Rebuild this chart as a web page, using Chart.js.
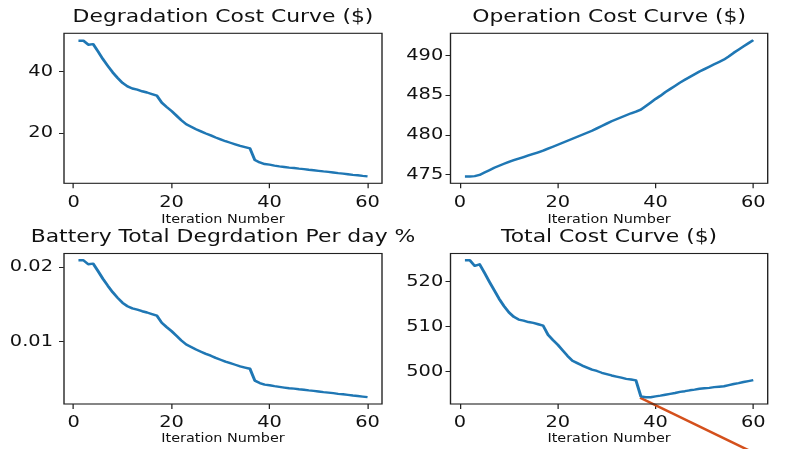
<!DOCTYPE html>
<html>
<head>
<meta charset="utf-8">
<title>Cost Curves</title>
<script src="https://cdn.jsdelivr.net/npm/chart.js@4.4.1/dist/chart.umd.min.js"></script>
<style>
  html, body { margin: 0; padding: 0; background: #fff; }
  #wrap { position: relative; width: 799px; height: 449px; overflow: hidden; }
  #wrap canvas { position: absolute; left: 0; top: 0; }
</style>
</head>
<body>
<div id="wrap">
  <canvas id="cDeg" width="799" height="449"></canvas>
  <canvas id="cOp" width="799" height="449"></canvas>
  <canvas id="cBat" width="799" height="449"></canvas>
  <canvas id="cTot" width="799" height="449"></canvas>
</div>
<script>
// iteration numbers (x axis)
const iterations = [1,2,3,4,5,6,7,8,9,10,11,12,13,14,15,16,17,18,19,20,
  21,22,23,24,25,26,27,28,29,30,31,32,33,34,35,36,37,38,39,40,
  41,42,43,44,45,46,47,48,49,50,51,52,53,54,55,56,57,58,59,60];

const degradationCost = [50.0,50.0,48.7,48.9,46.5,44.0,41.8,39.7,37.9,36.3,
  35.2,34.5,34.1,33.6,33.2,32.7,32.2,29.9,28.5,27.2,
  25.7,24.2,22.9,22.1,21.3,20.6,19.9,19.3,18.6,18.0,
  17.4,16.9,16.4,15.9,15.5,15.1,11.3,10.5,10.0,9.8,
  9.5,9.25,9.05,8.85,8.7,8.5,8.35,8.15,8.0,7.8,
  7.6,7.45,7.25,7.05,6.9,6.7,6.5,6.35,6.15,6.0];

const operationCost = [474.8,474.8,474.85,475.0,475.3,475.6,475.9,476.15,476.4,476.65,
  476.85,477.05,477.25,477.45,477.65,477.85,478.05,478.3,478.55,478.8,
  479.05,479.3,479.55,479.8,480.05,480.3,480.55,480.85,481.15,481.45,
  481.75,482.0,482.25,482.5,482.75,482.95,483.2,483.65,484.1,484.55,
  484.95,485.4,485.8,486.2,486.6,486.95,487.3,487.65,488.0,488.3,
  488.6,488.9,489.2,489.5,489.9,490.35,490.75,491.15,491.55,491.95];

const batteryDegradation = [0.02095,0.02095,0.02041,0.02049,0.01948,0.01844,0.01751,0.01663,0.01588,0.01521,
  0.01475,0.01446,0.01429,0.01408,0.01391,0.01370,0.01349,0.01253,0.01194,0.01140,
  0.01077,0.01014,0.00960,0.00926,0.00892,0.00863,0.00834,0.00809,0.00779,0.00754,
  0.00729,0.00708,0.00687,0.00666,0.00649,0.00633,0.00473,0.00440,0.00419,0.00411,
  0.00398,0.00388,0.00379,0.00371,0.00365,0.00356,0.00350,0.00341,0.00335,0.00327,
  0.00318,0.00312,0.00304,0.00295,0.00289,0.00281,0.00272,0.00266,0.00258,0.00251];

const totalCost = [524.8,524.8,523.55,523.9,522.0,520.0,518.1,516.2,514.6,513.2,
  512.2,511.6,511.35,511.05,510.85,510.55,510.25,508.2,507.05,506.0,
  504.75,503.5,502.45,501.9,501.35,500.9,500.45,500.15,499.75,499.45,
  499.15,498.9,498.65,498.4,498.25,498.05,494.5,494.3,494.3,494.5,
  494.65,494.85,495.05,495.25,495.5,495.65,495.85,496.0,496.2,496.3,
  496.4,496.55,496.65,496.75,497.0,497.25,497.45,497.7,497.9,498.1];

// the red stroke drawn over the total cost panel
const markX = [36.85, 60];
const markY = [494.2, 482.0];

// tick labels
const xTicks = [0, 20, 40, 60];
const degTicks = [20, 40];
const opTicks = [475, 480, 485, 490];
const batTicks = [0.01, 0.02];
const totTicks = [500, 510, 520];

const SX = 1.25;   // the figure is stretched sideways
const FONT = 'DejaVu Sans';
const INK = '#111';
Chart.defaults.font.family = FONT;

// stretch + frame + panel title
const panelPlugin = {
  id: 'panel',
  beforeDraw(chart) {
    chart.ctx.save();
    chart.ctx.scale(SX, 1);
  },
  afterDraw(chart, args, opts) {
    const ctx = chart.ctx, a = chart.chartArea;
    ctx.save();
    ctx.strokeStyle = '#222';
    ctx.lineWidth = 1.1;
    ctx.strokeRect(a.left, a.top, a.right - a.left, a.bottom - a.top);
    ctx.fillStyle = INK;
    ctx.font = '17.5px "' + FONT + '"';
    ctx.textAlign = 'center';
    ctx.textBaseline = 'middle';
    ctx.fillText(opts.text, (a.left + a.right) / 2, a.top - 16);
    ctx.restore();
    ctx.restore();
  }
};

function points(ys, xs) {
  return ys.map((y, i) => ({ x: xs[i], y: y }));
}

// frame = plot box in page pixels
function panel(id, title, series, yTicks, yMin, yMax, frame, xh, yPad, extra) {
  const yw = 45;
  const datasets = [{
    data: points(series, iterations),
    borderColor: '#1f77b4',
    borderWidth: 2.4,
    borderJoinStyle: 'round',
    pointRadius: 0,
    tension: 0,
    fill: false
  }];
  if (extra) datasets.push(extra);

  return new Chart(document.getElementById(id), {
    type: 'line',
    data: { datasets: datasets },
    plugins: [panelPlugin],
    options: {
      responsive: false,
      animation: false,
      events: [],
      layout: {
        padding: {
          left: frame.l / SX - yw,
          right: 799 - frame.r / SX,
          top: frame.t,
          bottom: 449 - frame.b - xh
        }
      },
      plugins: {
        legend: { display: false },
        tooltip: { enabled: false },
        panel: { text: title }
      },
      scales: {
        x: {
          type: 'linear',
          min: -1.95,
          max: 62.95,
          afterBuildTicks: s => { s.ticks = xTicks.map(v => ({ value: v })); },
          afterFit: s => { s.height = xh; },
          grid: { drawOnChartArea: false, tickLength: 5, color: '#222' },
          border: { display: false },
          ticks: { padding: 5, maxRotation: 0, autoSkip: false, color: INK,
                   font: { family: FONT, size: 15.5 } },
          title: { display: true, text: 'Iteration Number', color: INK, padding: 0,
                   font: { family: FONT, size: 11.5 } }
        },
        y: {
          type: 'linear',
          min: yMin,
          max: yMax,
          afterBuildTicks: s => { s.ticks = yTicks.map(v => ({ value: v })); },
          afterFit: s => { s.width = yw; },
          grid: { drawOnChartArea: false, tickLength: 4, color: '#222' },
          border: { display: false },
          ticks: { padding: yPad, color: INK, font: { family: FONT, size: 15.5 },
                   callback: v => String(v) }
        }
      }
    }
  });
}

const topRow = { t: 33.3, b: 183.3 };
const botRow = { t: 253.5, b: 404 };
const leftCol = { l: 64, r: 382 };
const rightCol = { l: 450.5, r: 767.7 };

panel('cDeg', 'Degradation Cost Curve ($)', degradationCost, degTicks, 3.75, 52.4,
  { l: leftCol.l, r: leftCol.r, t: topRow.t, b: topRow.b }, 43.6, 4.8);

panel('cOp', 'Operation Cost Curve ($)', operationCost, opTicks, 473.95, 492.8,
  { l: rightCol.l, r: rightCol.r, t: topRow.t, b: topRow.b }, 43.6, 1.8);

panel('cBat', 'Battery Total Degrdation Per day %', batteryDegradation, batTicks, 0.00158, 0.02186,
  { l: leftCol.l, r: leftCol.r, t: botRow.t, b: botRow.b }, 41.7, 4.8);

panel('cTot', 'Total Cost Curve ($)', totalCost, totTicks, 492.8, 526.3,
  { l: rightCol.l, r: rightCol.r, t: botRow.t, b: botRow.b }, 41.7, 1.8,
  {
    data: points(markY, markX),
    borderColor: '#d4501c',
    borderWidth: 2.4,
    pointRadius: 0,
    fill: false,
    clip: false
  });
</script>
</body>
</html>
